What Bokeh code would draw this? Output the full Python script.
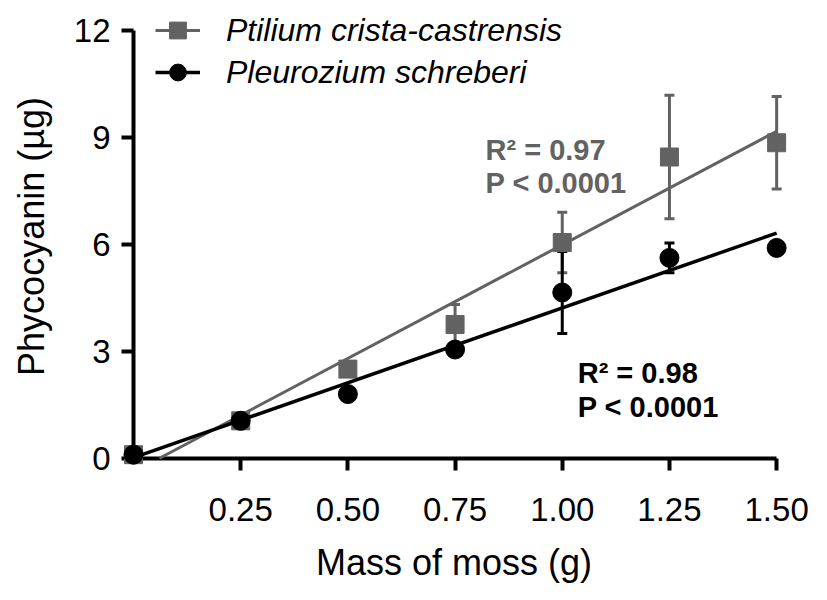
import numpy as np
from bokeh.plotting import figure
from bokeh.models import (ColumnDataSource, Whisker, TeeHead, Legend, LegendItem,
                          Label, FixedTicker, Range1d, NumeralTickFormatter, LinearAxis)
from bokeh.embed import file_html
from bokeh.resources import INLINE

# ---- data ----
mass = [0.0, 0.25, 0.5, 0.75, 1.0, 1.25, 1.5]
ptilium = [0.1, 1.05, 2.5, 3.75, 6.05, 8.45, 8.85]
ptilium_sd = [0, 0, 0, 0.56, 0.85, 1.73, 1.3]
pleurozium = [0.1, 1.05, 1.8, 3.05, 4.65, 5.62, 5.9]
pleurozium_sd = [0, 0, 0, 0, 1.15, 0.42, 0]
series_names = ["Ptilium crista-castrensis", "Pleurozium schreberi"]
stats_ptilium = ["R² = 0.97", "P < 0.0001"]
stats_pleurozium = ["R² = 0.98", "P < 0.0001"]
x_ticks = [0.25, 0.5, 0.75, 1.0, 1.25, 1.5]
y_ticks = [0, 3, 6, 9, 12]

GRAY = "#626262"
BLACK = "#000000"
FONT = "Liberation Sans"

p = figure(width=827, height=600,
           x_range=Range1d(-0.035, 1.53), y_range=Range1d(-0.4, 12.84),
           output_backend="svg", toolbar_location=None,
           min_border_left=118, min_border_right=38,
           min_border_top=0, min_border_bottom=128)
p.outline_line_color = None
p.xgrid.visible = False
p.ygrid.visible = False
p.background_fill_color = "white"

x = np.array(mass)

def fit_line(y):
    m, b = np.polyfit(x, np.array(y), 1)
    return m, b

m1, b1 = fit_line(ptilium)
xs1 = np.array([max(0.0, -b1 / m1), mass[-1]])
m2, b2 = fit_line(pleurozium)
xs2 = np.array([max(0.0, -b2 / m2), mass[-1]])

def err_source(y, sd):
    y = np.array(y); sd = np.array(sd)
    mask = sd > 0
    return ColumnDataSource(dict(base=x[mask], upper=(y + sd)[mask], lower=(y - sd)[mask]))

for y, sd, col in [(ptilium, ptilium_sd, GRAY), (pleurozium, pleurozium_sd, BLACK)]:
    w = Whisker(source=err_source(y, sd), base="base", upper="upper", lower="lower",
                line_color=col, line_width=3,
                upper_head=TeeHead(size=10, line_color=col, line_width=3),
                lower_head=TeeHead(size=10, line_color=col, line_width=3))
    p.add_layout(w)

sq = p.scatter(x, ptilium, marker="square", size=18, fill_color=GRAY, line_color=GRAY)
l1 = p.line(xs1, m1 * xs1 + b1, line_color=GRAY, line_width=3)
ci = p.scatter(x, pleurozium, marker="circle", size=19, fill_color=BLACK, line_color=BLACK)
l2 = p.line(xs2, m2 * xs2 + b2, line_color=BLACK, line_width=3.5)

# label-bearing axes at the frame edges (no rule, no ticks)
for ax in (p.xaxis, p.yaxis):
    ax.axis_line_color = None
    ax.major_tick_line_color = None
    ax.major_tick_out = 0
    ax.major_tick_in = 0
    ax.minor_tick_line_color = None
    ax.minor_tick_out = 0
    ax.minor_tick_in = 0
    ax.major_label_text_font = FONT
    ax.major_label_text_font_size = "33px"
    ax.major_label_text_color = BLACK
    ax.axis_label_text_font = FONT
    ax.axis_label_text_font_size = "36px"
    ax.axis_label_text_font_style = "normal"
    ax.axis_label_text_color = BLACK

p.xaxis.ticker = FixedTicker(ticks=x_ticks)
p.yaxis.ticker = FixedTicker(ticks=y_ticks)
p.xaxis.formatter = NumeralTickFormatter(format="0.00")
p.xaxis.major_label_standoff = 25
p.yaxis.major_label_standoff = 8
p.xaxis.axis_label = "Mass of moss (g)"
p.yaxis.axis_label = "Phycocyanin (µg)"
p.xaxis.axis_label_standoff = 18
p.yaxis.axis_label_standoff = 19

# rule + tick axes crossing at the origin, drawn beneath the data marks
def rule_axis(ticks, bounds):
    a = LinearAxis(ticker=FixedTicker(ticks=ticks), bounds=bounds, fixed_location=0,
                   minor_tick_line_color=None, level="underlay",
                   major_label_text_alpha=0, major_label_text_font_size="1px")
    a.axis_line_width = 4
    a.axis_line_color = BLACK
    a.major_tick_line_width = 4
    a.major_tick_line_color = BLACK
    a.major_tick_out = 12
    a.major_tick_in = 0
    return a

p.add_layout(rule_axis(x_ticks, (0, 1.5)), "below")
p.add_layout(rule_axis(y_ticks, (0, 12)), "left")

legend = Legend(items=[LegendItem(label=series_names[0], renderers=[l1, sq]),
                       LegendItem(label=series_names[1], renderers=[l2, ci])],
                location=(37, 379))
legend.label_text_font = FONT
legend.label_text_font_style = "italic"
legend.label_text_font_size = "32px"
legend.label_text_color = BLACK
legend.glyph_width = 45
legend.glyph_height = 42
legend.label_height = 42
legend.spacing = 0
legend.padding = 0
legend.margin = 0
legend.label_standoff = 26
legend.border_line_color = None
legend.background_fill_alpha = 0
p.add_layout(legend)

def stat_label(xv, yv, txt, col):
    return Label(x=xv, y=yv, text=txt, text_font=FONT, text_font_style="bold",
                 text_font_size="29px", text_color=col, text_baseline="alphabetic")

p.add_layout(stat_label(0.821, 8.66, stats_ptilium[0], GRAY))
p.add_layout(stat_label(0.821, 7.71, stats_ptilium[1], GRAY))
p.add_layout(stat_label(1.036, 2.38, stats_pleurozium[0], BLACK))
p.add_layout(stat_label(1.036, 1.43, stats_pleurozium[1], BLACK))

open("out.html", "w").write(file_html(p, INLINE))
